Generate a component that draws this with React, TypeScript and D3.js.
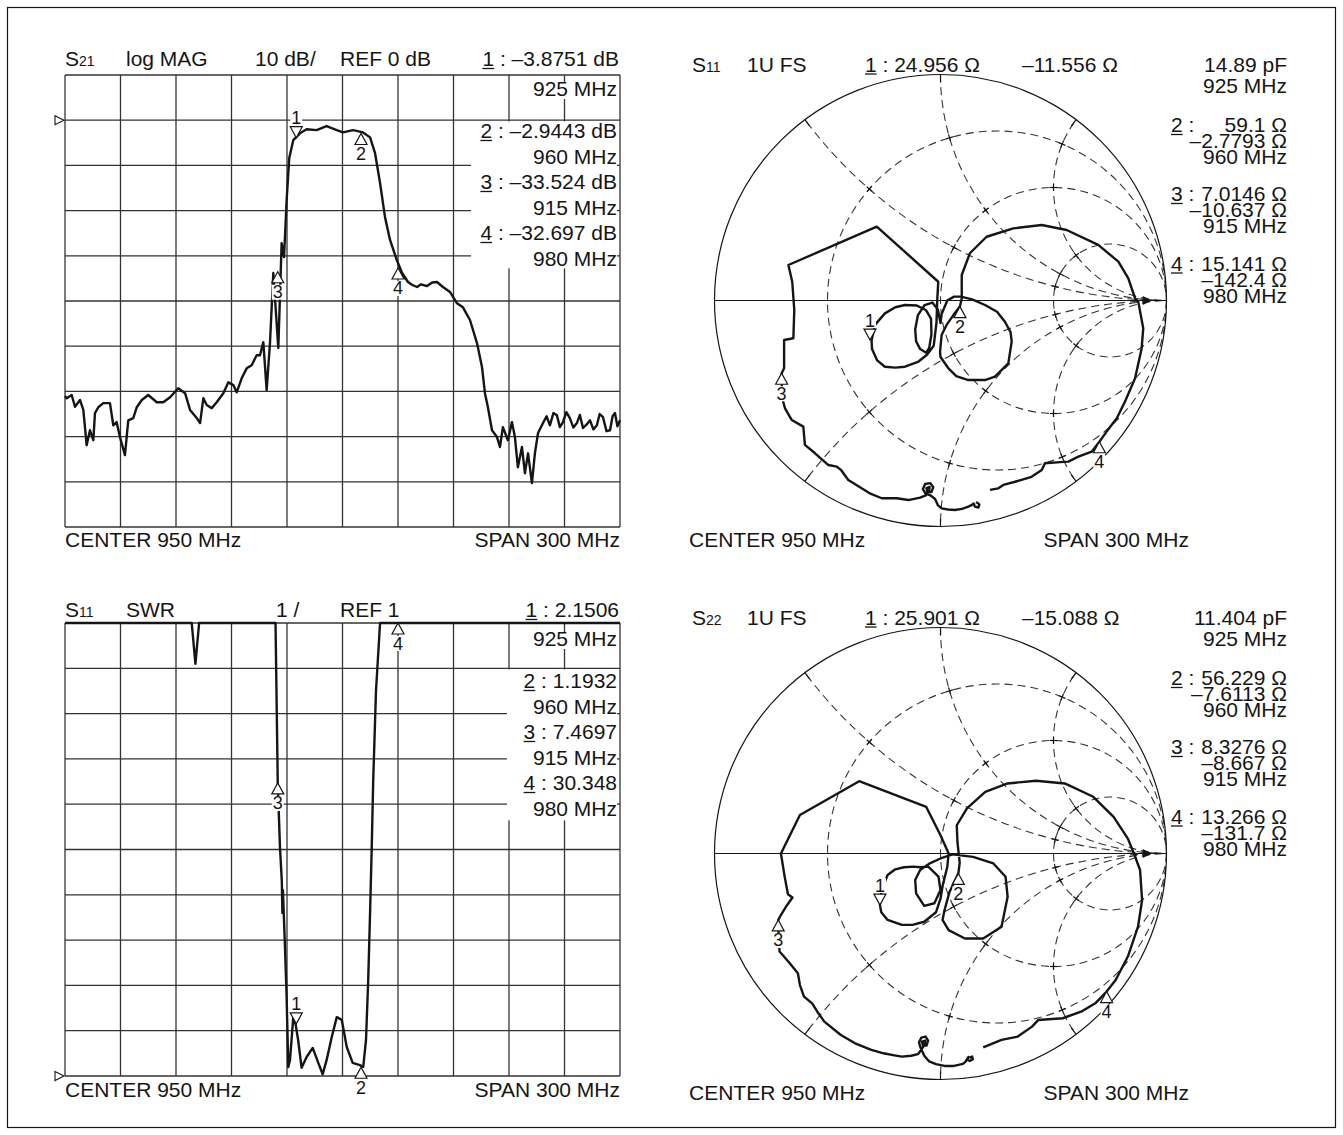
import React from "react";
import * as d3 from "d3";

const FONT = "'Liberation Sans', Arial, Helvetica, sans-serif";
const INK = "#151515";
const GRID = "#333";

// ---------------- shared frequency axis ----------------
const freqDomain: [number, number] = [800, 1100];
const freqStep = 30;

// ---------------- S21 log MAG ----------------
const s21Domain: [number, number] = [-90, 10];
const s21Step = 10;
const s21Freq = [800, 800.9, 803.6, 805.4, 808.1, 809.9, 811.7, 813.5, 815.3, 816.2, 818.0, 820.7, 824.3, 826.1, 827.9, 829.7, 832.4, 834.2, 836.9, 838.8, 841.5, 845.0, 849.6, 853.1, 856.8, 861.2, 864.9, 867.6, 871.2, 873.0, 874.8, 876.6, 879.3, 882.0, 885.6, 888.3, 891.0, 892.8, 895.5, 898.2, 900.9, 903.6, 905.4, 907.2, 909.0, 910.8, 912.6, 915.3, 917.1, 918.4, 919.8, 921.2, 923.4, 927.0, 930.6, 936.0, 941.4, 946.9, 950.3, 955.7, 961.1, 964.9, 967.6, 970.3, 973.0, 975.7, 979.4, 982.2, 985.4, 987.5, 990.3, 992.5, 995.7, 998.5, 1001.1, 1004.3, 1008.1, 1011.9, 1015.1, 1018.9, 1022.7, 1025.4, 1027.0, 1028.6, 1030.8, 1033.5, 1035.1, 1036.7, 1039.4, 1041.6, 1043.2, 1044.8, 1047.0, 1048.6, 1050.3, 1052.4, 1054.0, 1055.7, 1058.4, 1060.3, 1062.1, 1064.0, 1065.9, 1067.5, 1069.2, 1071.0, 1072.9, 1074.8, 1076.7, 1078.3, 1080.0, 1082.0, 1083.8, 1085.6, 1087.5, 1089.0, 1090.8, 1092.7, 1094.6, 1096.0, 1097.3, 1098.6, 1100];
const s21Db = [-61.0, -61.5, -60.8, -63.4, -61.9, -64.1, -71.9, -68.6, -70.8, -64.8, -63.5, -62.6, -62.6, -67.5, -66.8, -70.1, -74.1, -66.4, -65.9, -63.5, -61.9, -60.8, -62.4, -62.4, -61.3, -59.3, -60.4, -64.1, -65.9, -67.0, -61.5, -63.0, -63.7, -62.4, -60.4, -58.0, -58.6, -60.2, -57.1, -54.9, -54.2, -52.0, -52.0, -49.1, -59.7, -49.3, -33.8, -50.4, -27.2, -30.3, -17.7, -8.4, -4.4, -2.9, -2.0, -2.2, -1.3, -2.2, -2.7, -2.2, -2.7, -3.8, -7.3, -13.9, -21.5, -26.5, -31.0, -33.8, -35.8, -36.4, -36.9, -36.3, -36.7, -35.9, -35.8, -36.9, -38.0, -40.5, -41.4, -44.2, -49.3, -54.6, -60.4, -63.5, -68.6, -70.1, -72.3, -67.9, -70.8, -66.8, -70.1, -76.8, -72.3, -78.1, -73.7, -80.3, -73.7, -69.2, -67.0, -65.5, -67.5, -64.8, -65.3, -67.9, -66.8, -64.6, -65.9, -68.0, -67.0, -65.2, -68.1, -67.3, -66.4, -68.4, -67.5, -65.0, -65.7, -68.8, -68.6, -65.5, -64.8, -67.7, -66.4];
const s21MarkerFreq = [925, 960, 915, 980];
const s21MarkerDb = [-3.8751, -2.9443, -33.524, -32.697];
const s21Readout = ["–2.9443 dB", "960 MHz", "–33.524 dB", "915 MHz", "–32.697 dB", "980 MHz"];

// ---------------- S11 SWR ----------------
const swrDomain: [number, number] = [1, 11];
const swrStep = 1;
const swrFreq = [800, 866, 868.5, 870.5, 872.5, 875, 912.5, 913.8, 915, 916.2, 917.2, 917.5, 917.8, 918.9, 919.8, 920.7, 921.6, 923.4, 924.6, 926.0, 927.9, 930.6, 933.9, 936.9, 939.3, 941.4, 944.2, 946.9, 949.6, 952.3, 955.5, 959.4, 961.2, 962.7, 963.9, 964.9, 965.8, 966.6, 968.1, 970.3, 972, 980, 1100];
const swrVal = [30, 30, 20, 10.1, 20, 30, 30, 12, 7.47, 6.05, 5.3, 4.6, 5.1, 3.85, 2.74, 1.2, 1.35, 2.3, 2.15, 1.8, 1.18, 1.42, 1.62, 1.29, 1.04, 1.35, 1.86, 2.3, 2.24, 1.64, 1.29, 1.24, 1.2, 1.79, 3.12, 4.6, 6.05, 7.52, 9.5, 11.3, 15, 30.35, 30];
const swrMarkerFreq = [925, 960, 915, 980];
const swrMarkerVal = [2.1506, 1.1932, 7.4697, 30.348];
const swrReadout = ["1.1932", "960 MHz", "7.4697", "915 MHz", "30.348", "980 MHz"];

// ---------------- Smith charts ----------------
const smithRes = [1 / 3, 1, 3];
const smithReact = [0.5, 1, 2, -0.5, -1, -2];

const s11Gamma: [number, number][] = [
  [0.158, -0.892], [0.172, -0.902], [0.168, -0.916], [0.152, -0.912], [0.147, -0.898], [0.135, -0.907], [0.12, -0.913], [0.095, -0.922], [0.064, -0.927], [0.033, -0.925], [0.005, -0.92], [-0.012, -0.905], [-0.024, -0.878], [-0.045, -0.862],
  [-0.066, -0.855], [-0.078, -0.835], [-0.068, -0.812], [-0.045, -0.808], [-0.032, -0.826], [-0.04, -0.848], [-0.058, -0.848], [-0.062, -0.83], [-0.048, -0.825], [-0.05, -0.842], [-0.065, -0.862],
  [-0.09, -0.872], [-0.142, -0.883], [-0.194, -0.875], [-0.26, -0.875], [-0.31, -0.855], [-0.349, -0.831], [-0.408, -0.794], [-0.44, -0.75], [-0.459, -0.735], [-0.496, -0.728], [-0.555, -0.676], [-0.6, -0.639], [-0.607, -0.558], [-0.658, -0.529], [-0.688, -0.477], [-0.696, -0.448], [-0.702, -0.38], [-0.703, -0.322], [-0.692, -0.3], [-0.692, -0.175], [-0.651, -0.167], [-0.647, -0.042], [-0.656, 0.083], [-0.673, 0.157], [-0.282, 0.327], [-0.01, 0.083], [-0.014, 0.01], [-0.018, -0.1], [-0.03, -0.2], [-0.06, -0.24], [-0.1, -0.272], [-0.157, -0.293], [-0.2, -0.297], [-0.246, -0.293], [-0.28, -0.265], [-0.303, -0.215], [-0.305, -0.178], [-0.29, -0.108], [-0.246, -0.057], [-0.2, -0.03], [-0.157, -0.02], [-0.105, -0.022], [-0.065, -0.042], [-0.042, -0.08], [-0.04, -0.15], [-0.05, -0.21], [-0.063, -0.231], [-0.09, -0.215], [-0.108, -0.18], [-0.112, -0.128], [-0.1, -0.065], [-0.07, -0.02], [-0.036, -0.009], [-0.012, -0.04], [0.0, -0.1], [0.005, -0.06], [0.03, 0.0], [0.06, 0.017], [0.09, 0.017], [0.14, 0.005], [0.197, -0.02], [0.25, -0.05], [0.285, -0.094], [0.31, -0.14], [0.315, -0.182], [0.3, -0.278], [0.241, -0.337], [0.197, -0.352], [0.123, -0.352], [0.07, -0.335], [0.035, -0.3], [0.0, -0.25], [-0.002, -0.227], [0.005, -0.153], [0.027, -0.108], [0.06, -0.06], [0.086, -0.027], [0.094, 0.01], [0.094, 0.113], [0.13, 0.209], [0.204, 0.282], [0.322, 0.319], [0.448, 0.334], [0.558, 0.312], [0.698, 0.246], [0.787, 0.172], [0.831, 0.098], [0.861, 0.01], [0.875, -0.005], [0.897, -0.123], [0.89, -0.212], [0.861, -0.344], [0.816, -0.448], [0.78, -0.521], [0.735, -0.58], [0.703, -0.625], [0.669, -0.669], [0.61, -0.691], [0.566, -0.713], [0.53, -0.715], [0.462, -0.72], [0.448, -0.75], [0.403, -0.78], [0.33, -0.802], [0.278, -0.816], [0.256, -0.831], [0.219, -0.838],
];
const s11MarkerGamma: [number, number][] = [[-0.312, -0.175], [0.086, -0.027], [-0.703, -0.322], [0.703, -0.625]];
const s11Header = ["11", "1U FS", "24.956 Ω", "–11.556 Ω", "14.89 pF", "925 MHz"];
const s11Readout = [["2", "59.1 Ω", "–2.7793 Ω", "960 MHz"], ["3", "7.0146 Ω", "–10.637 Ω", "915 MHz"], ["4", "15.141 Ω", "–142.4 Ω", "980 MHz"]];

const s22Gamma: [number, number][] = [
  [0.128, -0.905], [0.14, -0.898], [0.143, -0.91], [0.13, -0.918], [0.118, -0.912], [0.124, -0.9], [0.11, -0.922], [0.099, -0.931], [0.06, -0.94], [0.018, -0.94], [-0.02, -0.932], [-0.05, -0.92], [-0.072, -0.895], [-0.081, -0.875],
  [-0.09, -0.855], [-0.095, -0.835], [-0.085, -0.815], [-0.066, -0.81], [-0.055, -0.828], [-0.062, -0.85], [-0.078, -0.85], [-0.082, -0.832], [-0.068, -0.828], [-0.07, -0.845], [-0.085, -0.868],
  [-0.1, -0.888], [-0.13, -0.895], [-0.171, -0.899], [-0.21, -0.892], [-0.252, -0.884], [-0.306, -0.869], [-0.378, -0.84], [-0.441, -0.803], [-0.514, -0.744], [-0.545, -0.7], [-0.568, -0.663], [-0.604, -0.633], [-0.622, -0.582], [-0.631, -0.53], [-0.667, -0.486], [-0.712, -0.434], [-0.716, -0.37], [-0.718, -0.294], [-0.705, -0.27], [-0.68, -0.23], [-0.655, -0.195], [-0.675, -0.18], [-0.69, -0.1], [-0.706, 0.0], [-0.622, 0.17], [-0.36, 0.32], [-0.063, 0.206], [0.0, 0.081], [0.036, 0.0], [0.03, -0.06], [0.01, -0.14], [0.0, -0.2], [-0.02, -0.26], [-0.072, -0.302], [-0.12, -0.315], [-0.171, -0.316], [-0.234, -0.294], [-0.262, -0.26], [-0.268, -0.228], [-0.261, -0.162], [-0.234, -0.095], [-0.2, -0.07], [-0.162, -0.061], [-0.12, -0.058], [-0.09, -0.061], [-0.054, -0.058], [-0.009, -0.102], [0.0, -0.162], [-0.027, -0.22], [-0.072, -0.232], [-0.108, -0.176], [-0.112, -0.117], [-0.09, -0.073], [-0.05, -0.045], [0.0, -0.022], [0.054, -0.004], [0.144, -0.015], [0.234, -0.044], [0.288, -0.103], [0.297, -0.191], [0.27, -0.324], [0.189, -0.376], [0.108, -0.376], [0.036, -0.339], [0.009, -0.294], [0.018, -0.25], [0.04, -0.17], [0.079, -0.088], [0.085, -0.04], [0.075, 0.05], [0.072, 0.125], [0.117, 0.2], [0.198, 0.273], [0.297, 0.31], [0.423, 0.322], [0.55, 0.31], [0.676, 0.251], [0.766, 0.162], [0.829, 0.066], [0.856, 0.0], [0.883, -0.073], [0.892, -0.206], [0.874, -0.324], [0.829, -0.456], [0.775, -0.56], [0.735, -0.611], [0.685, -0.663], [0.622, -0.7], [0.541, -0.729], [0.432, -0.737], [0.405, -0.766], [0.342, -0.81], [0.27, -0.825], [0.216, -0.847], [0.189, -0.858],
];
const s22MarkerGamma: [number, number][] = [[-0.268, -0.228], [0.079, -0.088], [-0.718, -0.294], [0.735, -0.611]];
const s22Header = ["22", "1U FS", "25.901 Ω", "–15.088 Ω", "11.404 pF", "925 MHz"];
const s22Readout = [["2", "56.229 Ω", "–7.6113 Ω", "960 MHz"], ["3", "8.3276 Ω", "–8.667 Ω", "915 MHz"], ["4", "13.266 Ω", "–131.7 Ω", "980 MHz"]];

const markerLabels = ["1", "2", "3", "4"];

// ---------------- helpers ----------------
const CW: Record<string, number> = {
  " ": 278, ":": 278, ".": 278, "–": 556, "/": 278, "Ω": 768, d: 556, B: 667, M: 833, H: 722, z: 500, p: 556, F: 611,
  R: 722, E: 667, C: 722, N: 722, T: 611, S: 667, P: 667, A: 667, W: 944, U: 722, l: 222, o: 556, g: 556, G: 778,
};
const tw = (s: string, size: number) => {
  let w = 0;
  for (const ch of s) w += CW[ch] ?? 556;
  return (w * size) / 1000;
};

function T({ x, y, text, anchor = "start", size = 21, ul = false }: { x: number; y: number; text: string; anchor?: "start" | "end" | "middle"; size?: number; ul?: boolean }) {
  const w = tw(text, size);
  const x0 = anchor === "end" ? x - w : anchor === "middle" ? x - w / 2 : x;
  return (
    <g>
      <text x={x} y={y} textAnchor={anchor} fontSize={size} fill={INK}>{text}</text>
      {ul && <line x1={x0} x2={x0 + tw(text[0], size)} y1={y + 2.5} y2={y + 2.5} stroke={INK} strokeWidth={1.3} />}
    </g>
  );
}

function Marker({ x, y, label, down }: { x: number; y: number; label: string; down: boolean }) {
  const w = 6, h = 11;
  const pts = down ? `${x - w},${y - h} ${x + w},${y - h} ${x},${y}` : `${x},${y} ${x - w},${y + h} ${x + w},${y + h}`;
  const by = down ? y - h - 2.5 : y + h + 15.5;
  return (
    <g>
      <rect x={x - 6} y={by - 13.5} width={12} height={15} fill="#fff" />
      <polygon points={pts} fill="#fff" stroke={INK} strokeWidth={1.2} />
      <text x={x} y={by} textAnchor="middle" fontSize={18} fill={INK}>{label}</text>
    </g>
  );
}

function RefArrow({ x, y }: { x: number; y: number }) {
  return <polygon points={`${x - 9},${y - 4.5} ${x},${y} ${x - 9},${y + 4.5}`} fill="#fff" stroke={INK} strokeWidth={1.1} />;
}

function RectGrid({ xs, ys, xTicks, yTicks }: { xs: d3.ScaleLinear<number, number>; ys: d3.ScaleLinear<number, number>; xTicks: number[]; yTicks: number[] }) {
  const [x0, x1] = xs.range();
  const [y0, y1] = ys.range();
  return (
    <g stroke={GRID} strokeWidth={1.3}>
      {xTicks.map((f) => <line key={"v" + f} x1={xs(f)} x2={xs(f)} y1={y0} y2={y1} />)}
      {yTicks.map((v) => <line key={"h" + v} x1={x0} x2={x1} y1={ys(v)} y2={ys(v)} />)}
    </g>
  );
}

// ---------------- S21 panel ----------------
function S21Panel() {
  const xs = d3.scaleLinear().domain(freqDomain).range([65, 620]);
  const ys = d3.scaleLinear().domain(s21Domain).range([527, 75]);
  const xTicks = d3.range(freqDomain[0], freqDomain[1] + 1, freqStep);
  const yTicks = d3.range(s21Domain[0], s21Domain[1] + 1, s21Step);
  const line = d3.line<number>().x((_, i) => xs(s21Freq[i])).y((d) => ys(d));
  const rb = [138, 163.5, 189, 214.5, 240, 265.5];
  return (
    <g>
      <RectGrid xs={xs} ys={ys} xTicks={xTicks} yTicks={yTicks} />
      <rect x={530} y={82} width={87} height={17} fill="#fff" />
      <rect x={471} y={121.4} width={146} height={147} fill="#fff" />
      <path d={line(s21Db) || ""} fill="none" stroke={INK} strokeWidth={2.4} strokeLinejoin="round" />
      <RefArrow x={64} y={ys(0)} />
      {s21MarkerFreq.map((f, i) => (
        <Marker key={i} x={xs(f)} y={ys(s21MarkerDb[i])} label={markerLabels[i]} down={i === 0} />
      ))}
      <text x={65} y={66} fontSize={21} fill={INK}>S<tspan fontSize={14}>21</tspan></text>
      <T x={126} y={66} text="log MAG" />
      <T x={255} y={66} text="10 dB/" />
      <T x={340} y={66} text="REF 0 dB" />
      <T x={619} y={66} text="1 : –3.8751 dB" anchor="end" ul />
      <T x={617} y={95.5} text="925 MHz" anchor="end" />
      {s21Readout.map((s, i) => (
        <T key={i} x={617} y={rb[i]} text={i % 2 === 0 ? `${markerLabels[i / 2 + 1]} : ${s}` : s} anchor="end" ul={i % 2 === 0} />
      ))}
      <T x={65} y={547} text="CENTER 950 MHz" />
      <T x={620} y={547} text="SPAN 300 MHz" anchor="end" />
    </g>
  );
}

// ---------------- SWR panel ----------------
function SwrPanel() {
  const xs = d3.scaleLinear().domain(freqDomain).range([65, 620]);
  const ys = d3.scaleLinear().domain(swrDomain).range([1076, 623]).clamp(true);
  const xTicks = d3.range(freqDomain[0], freqDomain[1] + 1, freqStep);
  const yTicks = d3.range(swrDomain[0], swrDomain[1] + 1, swrStep);
  const line = d3.line<number>().x((_, i) => xs(swrFreq[i])).y((d) => ys(d));
  const rb = [688, 713.5, 739, 764.5, 790, 815.5];
  return (
    <g>
      <RectGrid xs={xs} ys={ys} xTicks={xTicks} yTicks={yTicks} />
      <rect x={530} y={632} width={87} height={17} fill="#fff" />
      <rect x={507} y={669.4} width={110} height={151} fill="#fff" />
      <path d={line(swrVal) || ""} fill="none" stroke={INK} strokeWidth={2.4} strokeLinejoin="round" />
      <RefArrow x={64} y={ys(1)} />
      {swrMarkerFreq.map((f, i) => (
        <Marker key={i} x={xs(f)} y={ys(swrMarkerVal[i])} label={markerLabels[i]} down={i === 0} />
      ))}
      <text x={65} y={617} fontSize={21} fill={INK}>S<tspan fontSize={14}>11</tspan></text>
      <T x={126} y={617} text="SWR" />
      <T x={276} y={617} text="1 /" />
      <T x={340} y={617} text="REF 1" />
      <T x={619} y={617} text="1 : 2.1506" anchor="end" ul />
      <T x={617} y={646} text="925 MHz" anchor="end" />
      {swrReadout.map((s, i) => (
        <T key={i} x={617} y={rb[i]} text={i % 2 === 0 ? `${markerLabels[i / 2 + 1]} : ${s}` : s} anchor="end" ul={i % 2 === 0} />
      ))}
      <T x={65} y={1097} text="CENTER 950 MHz" />
      <T x={620} y={1097} text="SPAN 300 MHz" anchor="end" />
    </g>
  );
}

// ---------------- Smith panel ----------------
type P2 = [number, number];
function intersect(a: P2, ra: number, b: P2, rb: number): P2[] {
  const dx = b[0] - a[0], dy = b[1] - a[1];
  const d = Math.hypot(dx, dy);
  const l = (ra * ra - rb * rb + d * d) / (2 * d);
  const h = Math.sqrt(Math.max(0, ra * ra - l * l));
  const mx = a[0] + (l * dx) / d, my = a[1] + (l * dy) / d;
  return [[mx + (h * dy) / d, my - (h * dx) / d], [mx - (h * dy) / d, my + (h * dx) / d]];
}

function SmithPanel({ id, cy, trace, markers, header, readout, dy }: { id: string; cy: number; trace: P2[]; markers: P2[]; header: string[]; readout: string[][]; dy: number }) {
  const cx = 940.5, R = 226;
  const sx = d3.scaleLinear().domain([-1, 1]).range([cx - R, cx + R]);
  const sy = d3.scaleLinear().domain([-1, 1]).range([cy + R, cy - R]);
  const rC = smithRes.map((r) => ({ c: [r / (1 + r), 0] as P2, rad: 1 / (1 + r) }));
  const xC = smithReact.map((x) => ({ c: [1, 1 / x] as P2, rad: 1 / Math.abs(x), x }));
  const ticks: { p: P2; t: P2; len: number; both: boolean }[] = [];
  const tan = (p: P2, c: P2): P2 => {
    const vx = -(p[1] - c[1]), vy = p[0] - c[0];
    const n = Math.hypot(vx, vy);
    return [vx / n, vy / n];
  };
  rC.forEach((rc) => {
    xC.forEach((xc) => {
      const pts = intersect(rc.c, rc.rad, xc.c, xc.rad);
      const p = pts.reduce((a, b) => (Math.hypot(a[0] - 1, a[1]) > Math.hypot(b[0] - 1, b[1]) ? a : b));
      ticks.push({ p, t: tan(p, rc.c), len: 3.5, both: true });
      ticks.push({ p, t: tan(p, xc.c), len: 3.5, both: true });
    });
  });
  xC.forEach((xc) => {
    const x = xc.x;
    const p: P2 = [(x * x - 1) / (x * x + 1), (2 * x) / (x * x + 1)];
    let t = tan(p, xc.c);
    const e = 0.02;
    if (Math.hypot(p[0] + t[0] * e, p[1] + t[1] * e) > 1) t = [-t[0], -t[1]];
    ticks.push({ p, t, len: 8, both: false });
  });
  const line = d3.line<P2>().x((d) => sx(d[0])).y((d) => sy(d[1]));
  const ax = sy(0);
  const lx = 1171, rx = 1287;
  const gb = [132 + dy, 201 + dy, 270.5 + dy];
  return (
    <g>
      <defs>
        <clipPath id={id}>
          <circle cx={cx} cy={cy} r={R} />
        </clipPath>
      </defs>
      <g clipPath={`url(#${id})`} fill="none" stroke={GRID} strokeWidth={1.1} strokeDasharray="8 5">
        {rC.map((c, i) => <circle key={"r" + i} cx={sx(c.c[0])} cy={sy(c.c[1])} r={c.rad * R} />)}
        {xC.map((c, i) => <circle key={"x" + i} cx={sx(c.c[0])} cy={sy(c.c[1])} r={c.rad * R} />)}
      </g>
      <g stroke={INK} strokeWidth={1.2}>
        {ticks.map((k, i) => {
          const a: P2 = k.both ? [k.p[0] - (k.t[0] * k.len) / R, k.p[1] - (k.t[1] * k.len) / R] : k.p;
          const b: P2 = [k.p[0] + (k.t[0] * k.len) / R, k.p[1] + (k.t[1] * k.len) / R];
          return <line key={i} x1={sx(a[0])} y1={sy(a[1])} x2={sx(b[0])} y2={sy(b[1])} />;
        })}
      </g>
      <circle cx={cx} cy={cy} r={R} fill="none" stroke={INK} strokeWidth={1.2} />
      <line x1={sx(-1)} x2={sx(1)} y1={ax} y2={ax} stroke={INK} strokeWidth={1.2} />
      <polygon points={`${sx(0.895)},${ax - 4.5} ${sx(0.936)},${ax} ${sx(0.895)},${ax + 4.5}`} fill={INK} />
      <path d={line(trace) || ""} fill="none" stroke={INK} strokeWidth={2.4} strokeLinejoin="round" />
      {markers.map((m, i) => (
        <Marker key={i} x={sx(m[0])} y={sy(m[1])} label={markerLabels[i]} down={i === 0} />
      ))}
      <text x={692} y={71.5 + dy} fontSize={21} fill={INK}>S<tspan fontSize={14}>{header[0]}</tspan></text>
      <T x={747} y={71.5 + dy} text={header[1]} />
      <T x={865} y={71.5 + dy} text={`1 : ${header[2]}`} ul />
      <T x={1022} y={71.5 + dy} text={header[3]} />
      <T x={rx} y={71.5 + dy} text={header[4]} anchor="end" />
      <T x={rx} y={93 + dy} text={header[5]} anchor="end" />
      {readout.map((g, i) => (
        <g key={i}>
          <T x={lx} y={gb[i]} text={`${g[0]} :`} ul />
          <T x={rx} y={gb[i]} text={g[1]} anchor="end" />
          <T x={rx} y={gb[i] + 16.3} text={g[2]} anchor="end" />
          <T x={rx} y={gb[i] + 32} text={g[3]} anchor="end" />
        </g>
      ))}
      <T x={689} y={547 + dy} text="CENTER 950 MHz" />
      <T x={1189} y={547 + dy} text="SPAN 300 MHz" anchor="end" />
    </g>
  );
}

export default function App() {
  return (
    <svg width={1343} height={1135} viewBox="0 0 1343 1135" style={{ position: "absolute", left: 0, top: 0, background: "#fff" }} fontFamily={FONT}>
      <rect x={0} y={0} width={1343} height={1135} fill="#fff" />
      <rect x={7.5} y={7.5} width={1328} height={1120} fill="none" stroke={INK} strokeWidth={1.2} />
      <S21Panel />
      <SwrPanel />
      <SmithPanel id="clipS11" cy={300.5} trace={s11Gamma} markers={s11MarkerGamma} header={s11Header} readout={s11Readout} dy={0} />
      <SmithPanel id="clipS22" cy={853.5} trace={s22Gamma} markers={s22MarkerGamma} header={s22Header} readout={s22Readout} dy={553} />
    </svg>
  );
}
